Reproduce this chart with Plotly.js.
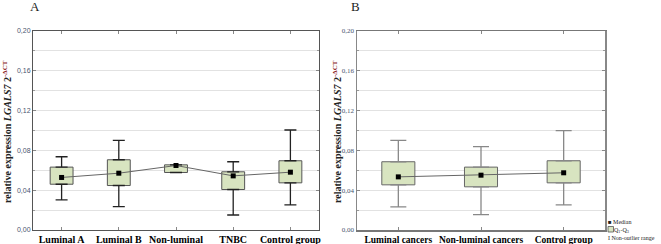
<!DOCTYPE html>
<html><head><meta charset="utf-8">
<script src="https://cdn.plot.ly/plotly-3.0.1.min.js"></script>
<style>html,body{margin:0;padding:0;background:#fff}#plot{width:661px;height:244px}</style>
</head><body><div id="plot"></div>
<script>
// Panel A
const catsA = ['Luminal A','Luminal B','Non-luminal','TNBC','Control group'];
const minA = [0.0302,0.0235,0.0580,0.0151,0.0252];
const q1A  = [0.0460,0.0447,0.0578,0.0407,0.0474];
const medA = [0.0528,0.0571,0.0648,0.0544,0.0581];
const q3A  = [0.0632,0.0706,0.0655,0.0585,0.0696];
const maxA = [0.0736,0.0900,0.0655,0.0686,0.1005];
// Panel B
const catsB = ['Luminal cancers','Non-luminal cancers','Control group'];
const minB = [0.0232,0.0155,0.0252];
const q1B  = [0.0454,0.0434,0.0474];
const medB = [0.0534,0.0551,0.0575];
const q3B  = [0.0686,0.0632,0.0696];
const maxB = [0.0900,0.0837,0.0998];
// y ticks
const yTicks = [0,0.04,0.08,0.12,0.16,0.20];

const W = 661, H = 244;
const boxFill = 'rgb(216,228,192)';

function panel(cats, mn, q1, md, q3, mx, xa, ya, whiskColor, capW, boxLine){
  const xs = cats.map((c,i)=>i);
  return [
    {type:'bar', x:xs, base:q1, y:q3.map((v,i)=>v-q1[i]), width:0.4,
     marker:{color:boxFill, line:{color:boxLine, width:1}},
     xaxis:xa, yaxis:ya, hoverinfo:'skip', showlegend:false},
    {type:'scatter', mode:'markers', x:xs, y:q3, marker:{size:1,color:'rgba(0,0,0,0)'},
     error_y:{type:'data', symmetric:false, array:mx.map((v,i)=>v-q3[i]), arrayminus:q3.map(()=>0),
              color:whiskColor, thickness:1.3, width:capW},
     xaxis:xa, yaxis:ya, hoverinfo:'skip', showlegend:false},
    {type:'scatter', mode:'markers', x:xs, y:q1, marker:{size:1,color:'rgba(0,0,0,0)'},
     error_y:{type:'data', symmetric:false, array:q1.map(()=>0), arrayminus:q1.map((v,i)=>v-mn[i]),
              color:whiskColor, thickness:1.3, width:capW},
     xaxis:xa, yaxis:ya, hoverinfo:'skip', showlegend:false},
    {type:'scatter', mode:'lines+markers', x:xs, y:md,
     line:{color:'#666', width:1}, marker:{symbol:'square', size:5, color:'#000'},
     xaxis:xa, yaxis:ya, showlegend:false}
  ];
}

const data = [
  ...panel(catsA,minA,q1A,medA,q3A,maxA,'x','y','#222',6,'#555'),
  ...panel(catsB,minB,q1B,medB,q3B,maxB,'x2','y2','#888',8,'#666')
];

const yBase = {
  range:[0,0.2], tickvals:yTicks, tickformat:'.2f', showgrid:true, gridcolor:'#e2e2e2', gridwidth:1,
  minor:{dtick:0.02, showgrid:true, gridcolor:'#e2e2e2', ticks:'inside', ticklen:2, tickcolor:'#999'},
  zeroline:false, showline:true, mirror:'ticks', ticks:'inside', ticklen:3, tickcolor:'#888',
  fixedrange:true
};
const xBase = {
  showgrid:false, zeroline:false, showline:true, mirror:'ticks', ticks:'inside', ticklen:3, tickcolor:'#888',
  tickangle:0, fixedrange:true
};

const yTitle = "relative expression <i>LGALS7</i> 2<sup><span style='color:#8b1a1a'>-\u0394CT</span></sup>";

const layout = {
  width:W, height:H, margin:{l:0,r:0,t:0,b:0}, paper_bgcolor:'#fff', plot_bgcolor:'#fff',
  separators:',.', bargap:0, showlegend:false,
  xaxis:{...xBase, domain:[33/W,319/W], range:[-0.5,4.5], tickvals:[0,1,2,3,4], ticktext:catsA, anchor:'y', linecolor:'#555', linewidth:1,
         tickfont:{family:'Liberation Serif', size:10, color:'#000', weight:'bold'}},
  yaxis:{...yBase, domain:[1-230/H,1-31/H], anchor:'x', linecolor:'#555', linewidth:1,
         tickfont:{family:'Liberation Sans', size:7, color:'#4a5570'}},
  xaxis2:{...xBase, domain:[357/W,605/W], range:[-0.5,2.5], tickvals:[0,1,2], ticktext:catsB, anchor:'y2', linecolor:'#777', linewidth:1.5,
          tickfont:{family:'Liberation Serif', size:9.5, color:'#000', weight:'bold'}},
  yaxis2:{...yBase, domain:[1-230/H,1-31/H], anchor:'x2', linecolor:'#888', linewidth:1.5,
          tickfont:{family:'Liberation Serif', size:7, color:'#4a5570'}},
  annotations:[
    {xref:'paper', yref:'paper', x:35/W, y:1-6/H, text:'A', showarrow:false, xanchor:'center', yanchor:'middle',
     font:{family:'Liberation Serif', size:13, color:'#222'}},
    {xref:'paper', yref:'paper', x:355/W, y:1-6/H, text:'B', showarrow:false, xanchor:'center', yanchor:'middle',
     font:{family:'Liberation Serif', size:13, color:'#222'}},
    {xref:'paper', yref:'paper', x:7/W, y:1-132/H, text:yTitle, textangle:-90, showarrow:false, xanchor:'center', yanchor:'middle',
     font:{family:'Liberation Serif', size:10, color:'#222', weight:'bold'}},
    {xref:'paper', yref:'paper', x:337/W, y:1-132/H, text:yTitle, textangle:-90, showarrow:false, xanchor:'center', yanchor:'middle',
     font:{family:'Liberation Serif', size:10, color:'#222', weight:'bold'}},
    {xref:'paper', yref:'paper', x:607/W, y:1-229.5/H, borderpad:0,
     text:'\u25A0 Median<br>\u2003Q<sub>1</sub>-Q<sub>3</sub><br>I Non-outlier range',
     showarrow:false, xanchor:'left', yanchor:'middle', align:'left',
     font:{family:'Liberation Serif', size:6, color:'#222'}}
  ],
  shapes:[
    {type:'rect', xref:'paper', yref:'paper', x0:608/W, x1:613.5/W, y0:1-232/H, y1:1-226.5/H,
     fillcolor:boxFill, line:{color:'#555', width:0.8}}
  ]
};

Plotly.newPlot('plot', data, layout, {displayModeBar:false, staticPlot:true});
</script>
</body></html>
